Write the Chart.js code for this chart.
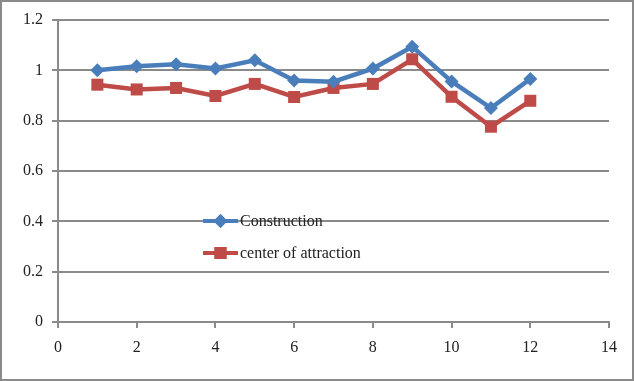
<!DOCTYPE html>
<html>
<head>
<meta charset="utf-8">
<title>Construction vs center of attraction</title>
<script src="https://cdn.jsdelivr.net/npm/chart.js@4/dist/chart.umd.min.js"></script>
<style>
  html, body { margin: 0; padding: 0; background: #fff; }
  #wrap { width: 634px; height: 381px; position: relative; }
</style>
</head>
<body>
<div id="wrap"><canvas id="lineChart" width="634" height="381"></canvas></div>
<script>
  // ========== DATA ==========
  const months = [1, 2, 3, 4, 5, 6, 7, 8, 9, 10, 11, 12];
  const construction = [1.0, 1.016, 1.024, 1.007, 1.04, 0.96, 0.955, 1.007, 1.094, 0.956, 0.85, 0.966];
  const attraction = [0.943, 0.924, 0.93, 0.898, 0.946, 0.894, 0.93, 0.946, 1.044, 0.895, 0.776, 0.879];
  const seriesNames = ["Construction", "center of attraction"];
  const xTicks = [0, 2, 4, 6, 8, 10, 12, 14];
  const yTicks = [0, 0.2, 0.4, 0.6, 0.8, 1, 1.2];

  const BLUE = "#4a7ebb";
  const RED = "#be4b48";
  const GRID = "#8a8a8a";
  const FONT = { family: "'Liberation Serif', 'Times New Roman', serif", size: 16 };

  const toPoints = (vals) => months.map((m, i) => ({ x: m, y: vals[i] }));

  // border round the whole picture
  const frame = {
    id: "frame",
    afterDraw(chart) {
      const ctx = chart.ctx;
      ctx.save();
      ctx.strokeStyle = GRID;
      ctx.lineWidth = 2;
      ctx.strokeRect(1, 1, chart.width - 2, chart.height - 2);
      ctx.restore();
    },
  };

  // legend sitting inside the plot, like the original
  const innerLegend = {
    id: "innerLegend",
    afterDatasetsDraw(chart) {
      const ctx = chart.ctx;
      const x0 = 203, x1 = 238, rows = [221, 253];
      ctx.save();
      chart.data.datasets.forEach((ds, i) => {
        const y = rows[i];
        ctx.strokeStyle = ds.borderColor;
        ctx.lineWidth = 4;
        ctx.beginPath();
        ctx.moveTo(x0, y);
        ctx.lineTo(x1, y);
        ctx.stroke();
        ctx.fillStyle = ds.borderColor;
        Chart.helpers.drawPoint(ctx, { pointStyle: ds.pointStyle, radius: ds.pointRadius, borderWidth: 0 }, (x0 + x1) / 2, y);
        ctx.fill();
        ctx.fillStyle = "#222";
        ctx.font = `${FONT.size}px ${FONT.family}`;
        ctx.textBaseline = "middle";
        ctx.fillText(ds.label, x1 + 2, y + 1);
      });
      ctx.restore();
    },
  };

  new Chart(document.getElementById("lineChart"), {
    type: "line",
    data: {
      datasets: [
        {
          label: seriesNames[0],
          data: toPoints(construction),
          borderColor: BLUE,
          backgroundColor: BLUE,
          borderWidth: 4.5,
          pointStyle: "rectRot",
          pointRadius: 7,
          pointBorderWidth: 0,
          tension: 0,
        },
        {
          label: seriesNames[1],
          data: toPoints(attraction),
          borderColor: RED,
          backgroundColor: RED,
          borderWidth: 4.5,
          pointStyle: "rect",
          pointRadius: 8.5,
          pointBorderWidth: 0,
          tension: 0,
        },
      ],
    },
    options: {
      responsive: false,
      animation: false,
      layout: { padding: { top: 20, right: 25, left: 0, bottom: 0 } },
      plugins: { legend: { display: false }, tooltip: { enabled: false } },
      scales: {
        x: {
          type: "linear",
          min: 0,
          max: 14,
          afterBuildTicks: (s) => { s.ticks = xTicks.map((v) => ({ value: v })); },
          afterFit: (s) => { s.height = 59; },
          grid: { drawOnChartArea: false, drawTicks: true, tickLength: 6, color: GRID, lineWidth: 2 },
          border: { color: GRID, width: 2 },
          ticks: { color: "#222", font: FONT, padding: 10, maxRotation: 0 },
        },
        y: {
          min: 0,
          max: 1.2,
          afterBuildTicks: (s) => { s.ticks = yTicks.map((v) => ({ value: v })); },
          afterFit: (s) => { s.width = 58; },
          grid: { drawTicks: true, tickLength: 6, color: GRID, lineWidth: 2 },
          border: { color: GRID, width: 2 },
          ticks: {
            color: "#222",
            font: FONT,
            padding: 9,
            callback: (v) => String(+v.toFixed(1)),
          },
        },
      },
    },
    plugins: [frame, innerLegend],
  });
</script>
</body>
</html>
